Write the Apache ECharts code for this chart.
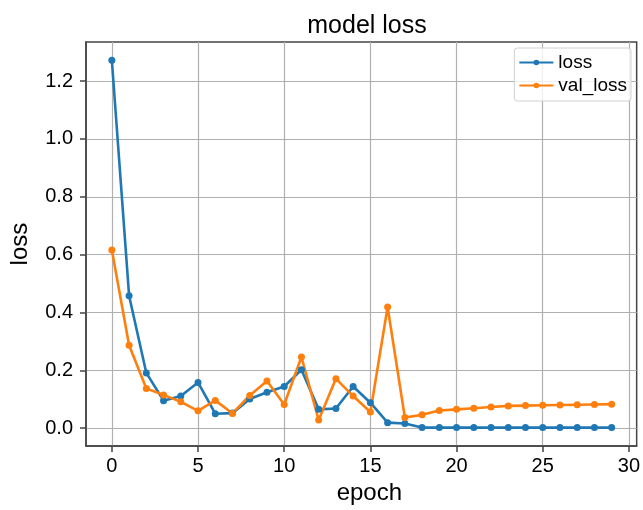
<!DOCTYPE html>
<html>
<head>
<meta charset="utf-8">
<title>model loss</title>
<script src="https://cdn.jsdelivr.net/npm/echarts@6/dist/echarts.min.js"></script>
<style>
  html, body { margin: 0; padding: 0; background: #fff; overflow: hidden; }
  #chart { width: 643px; height: 510px; }
</style>
</head>
<body>
<div id="chart"></div>
<script>
const epochs = Array.from({ length: 30 }, (_, i) => i);

const loss = [
  1.272, 0.458, 0.191, 0.095, 0.111, 0.158, 0.050, 0.052, 0.101, 0.124,
  0.144, 0.202, 0.065, 0.068, 0.144, 0.088, 0.019, 0.016, 0.002, 0.002,
  0.002, 0.002, 0.002, 0.002, 0.002, 0.002, 0.002, 0.002, 0.002, 0.002
];

const valLoss = [
  0.616, 0.287, 0.137, 0.115, 0.091, 0.060, 0.096, 0.051, 0.113, 0.163,
  0.082, 0.246, 0.028, 0.171, 0.111, 0.056, 0.419, 0.037, 0.046, 0.061,
  0.065, 0.069, 0.073, 0.077, 0.078, 0.079, 0.080, 0.081, 0.082, 0.083
];

// tick positions as drawn on the axes
const xTicks = [0, 5, 10, 15, 20, 25, 30];
const yTicks = [0, 0.2, 0.4, 0.6, 0.8, 1.0, 1.2];

const font = "'Liberation Sans', Arial, sans-serif";
const spine = '#444';
const gridColor = '#b0b0b0';

function pairs(ys) {
  return ys.map((y, i) => [epochs[i], y]);
}

function lineSeries(name, ys, color) {
  return {
    name: name,
    type: 'line',
    data: pairs(ys),
    symbol: 'circle',
    symbolSize: 7,
    showSymbol: true,
    lineStyle: { color: color, width: 2.6 },
    itemStyle: { color: color },
    emphasis: { disabled: true },
    animation: false
  };
}

const chart = echarts.init(document.getElementById('chart'), null, { renderer: 'canvas' });

chart.setOption({
  backgroundColor: '#fff',
  textStyle: { fontFamily: font },
  title: {
    text: 'model loss',
    left: 362,
    top: 9,
    textAlign: 'center',
    textStyle: { fontFamily: font, fontSize: 25, fontWeight: 'normal', color: '#000' }
  },
  legend: {
    orient: 'vertical',
    right: 12,
    top: 48,
    padding: [5, 4, 6, 4],
    itemGap: 4,
    itemWidth: 34,
    itemHeight: 7,
    borderColor: '#d0d0d0',
    borderWidth: 1,
    borderRadius: 3,
    backgroundColor: 'rgba(255,255,255,0.8)',
    textStyle: { fontFamily: font, fontSize: 19, color: '#000' },
    data: ['loss', 'val_loss']
  },
  grid: {
    left: 84,
    right: 3,
    top: 42,
    bottom: 56,
    show: true,
    borderColor: spine,
    borderWidth: 1.5,
    containLabel: false
  },
  xAxis: {
    type: 'value',
    min: -1.5,
    max: 30.45,
    name: 'epoch',
    nameLocation: 'middle',
    nameGap: 31,
    nameTextStyle: { fontFamily: font, fontSize: 24, color: '#000', padding: [0, 0, 0, 16] },
    axisLine: { show: true, onZero: false, lineStyle: { color: spine, width: 1.5 } },
    axisTick: { show: true, length: 6, inside: false, customValues: xTicks, lineStyle: { color: spine, width: 1.5 } },
    axisLabel: {
      fontFamily: font,
      fontSize: 20,
      color: '#000',
      margin: 10,
      customValues: xTicks,
      formatter: v => String(v)
    },
    splitLine: { show: true, lineStyle: { color: gridColor, width: 1.2 } }
  },
  yAxis: {
    type: 'value',
    min: -0.062,
    max: 1.335,
    name: 'loss',
    nameLocation: 'middle',
    nameGap: 54,
    nameTextStyle: { fontFamily: font, fontSize: 24, color: '#000' },
    axisLine: { show: true, onZero: false, lineStyle: { color: spine, width: 1.5 } },
    axisTick: { show: true, length: 6, inside: false, customValues: yTicks, lineStyle: { color: spine, width: 1.5 } },
    axisLabel: {
      fontFamily: font,
      fontSize: 20,
      color: '#000',
      margin: 13,
      customValues: yTicks,
      formatter: v => v.toFixed(1)
    },
    splitLine: { show: true, lineStyle: { color: gridColor, width: 1.2 } }
  },
  series: [
    lineSeries('loss', loss, '#1f77b4'),
    lineSeries('val_loss', valLoss, '#ff7f0e')
  ]
});
</script>
</body>
</html>
